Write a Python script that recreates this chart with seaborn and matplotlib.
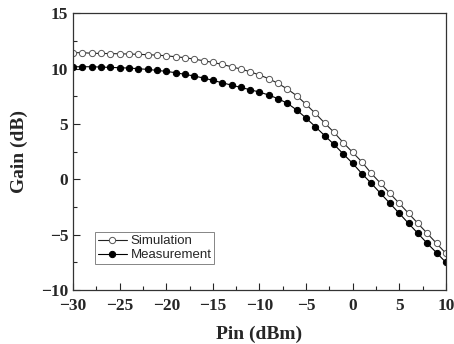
import numpy as np
import pandas as pd
import matplotlib
matplotlib.use("Agg")
import matplotlib.pyplot as plt
import seaborn as sns
from matplotlib.ticker import MultipleLocator

pin = list(range(-30, 11))
simulation = [11.45, 11.45, 11.4, 11.38, 11.37, 11.35, 11.33, 11.3, 11.27, 11.23,
              11.17, 11.08, 11.0, 10.87, 10.72, 10.57, 10.39, 10.18, 9.97, 9.73,
              9.43, 9.1, 8.67, 8.16, 7.56, 6.78, 5.96, 5.09, 4.25, 3.31,
              2.44, 1.57, 0.54, -0.36, -1.27, -2.17, -3.07, -3.98, -4.88, -5.78, -6.69]
measurement = [10.18, 10.18, 10.18, 10.15, 10.12, 10.09, 10.06, 10.0, 9.94, 9.85,
               9.76, 9.64, 9.49, 9.34, 9.16, 8.95, 8.73, 8.52, 8.31, 8.1,
               7.89, 7.62, 7.29, 6.87, 6.27, 5.54, 4.76, 3.95, 3.16, 2.29,
               1.45, 0.51, -0.36, -1.27, -2.17, -3.07, -3.98, -4.88, -5.78, -6.63, -7.5]

sns.set_style("white")
plt.rcParams['font.family'] = ['Liberation Serif', 'DejaVu Serif']

fig = plt.figure(figsize=(4.54, 3.44), dpi=100)
ax = fig.add_axes([0.161, 0.157, 0.821, 0.804])

df_sim = pd.DataFrame({"Pin": pin, "Gain": simulation})
df_mea = pd.DataFrame({"Pin": pin, "Gain": measurement})

sns.lineplot(data=df_sim, x="Pin", y="Gain", ax=ax, color="#222222", lw=0.8,
             marker="o", markersize=4.5, markerfacecolor="white",
             markeredgecolor="#555555", markeredgewidth=0.7, label="Simulation")
sns.lineplot(data=df_mea, x="Pin", y="Gain", ax=ax, color="black", lw=0.8,
             marker="o", markersize=4.5, markerfacecolor="black",
             markeredgecolor="black", label="Measurement")

ax.set_xlim(-30, 10)
ax.set_ylim(-10, 15)
ax.xaxis.set_major_locator(MultipleLocator(5))
ax.xaxis.set_minor_locator(MultipleLocator(2.5))
ax.yaxis.set_major_locator(MultipleLocator(5))
ax.yaxis.set_minor_locator(MultipleLocator(2.5))
ax.tick_params(which="major", direction="in", length=5, width=0.8,
               bottom=True, left=True, top=False, right=False, labelsize=12.5)
ax.tick_params(axis="x", which="major", pad=6)
ax.tick_params(which="minor", direction="in", length=3, width=0.8,
               bottom=True, left=True, top=False, right=False)
for lab in ax.get_xticklabels() + ax.get_yticklabels():
    lab.set_fontweight("bold")
for s in ax.spines.values():
    s.set_color("#333333")
    s.set_linewidth(0.9)

ax.set_xlabel("Pin (dBm)", fontsize=14, fontweight="bold", labelpad=8)
ax.set_ylabel("Gain (dB)", fontsize=14, fontweight="bold", labelpad=9)

leg = ax.legend(loc="lower left", bbox_to_anchor=(0.059, 0.094),
                prop={"family": "Liberation Sans", "size": 9.5},
                frameon=True, fancybox=False, borderpad=0.2, labelspacing=0.15,
                handlelength=2.2, handletextpad=0.3, borderaxespad=0)
leg.get_frame().set_edgecolor("#666666")
leg.get_frame().set_linewidth(0.7)

fig.savefig("out.png", dpi=100)
